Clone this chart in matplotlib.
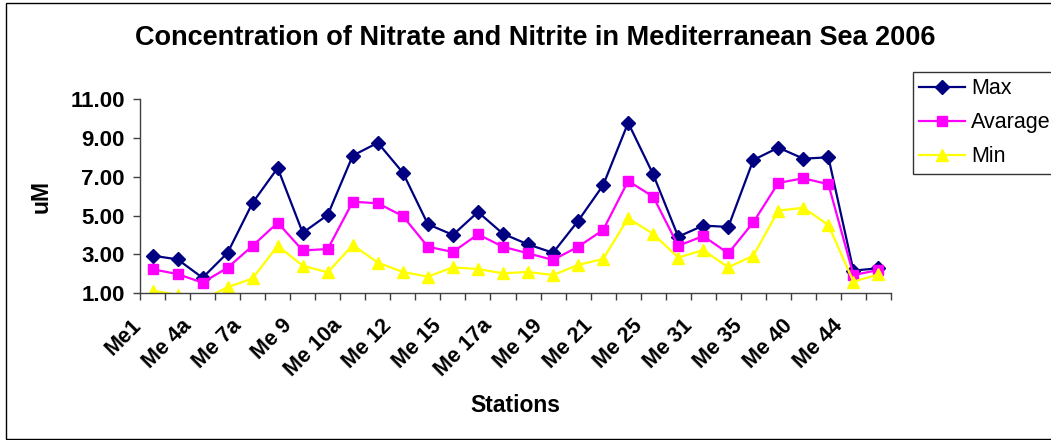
import matplotlib
matplotlib.use("Agg")
import matplotlib.pyplot as plt
from matplotlib.patches import Rectangle
from matplotlib.transforms import ScaledTranslation
import numpy as np

plt.rcParams['font.family'] = ['Liberation Sans', 'DejaVu Sans']

title = "Concentration of Nitrate and Nitrite in Mediterranean Sea 2006"
tick_labels = ["Me1", "Me 4a", "Me 7a", "Me 9", "Me 10a", "Me 12", "Me 15", "Me 17a",
               "Me 19", "Me 21", "Me 25", "Me 31", "Me 35", "Me 40", "Me 44"]
n_stations = 30

max_vals = [2.94, 2.75, 1.80, 3.09, 5.67, 7.46, 4.12, 5.04, 8.10, 8.76,
            7.22, 4.56, 4.01, 5.19, 4.07, 3.52, 3.09, 4.73, 6.57, 9.79,
            7.13, 3.92, 4.49, 4.42, 7.87, 8.51, 7.94, 8.01, 2.17, 2.29]
avg_vals = [2.24, 1.99, 1.55, 2.32, 3.45, 4.64, 3.21, 3.28, 5.72, 5.64,
            4.98, 3.40, 3.13, 4.04, 3.40, 3.06, 2.72, 3.40, 4.26, 6.79,
            5.98, 3.45, 3.95, 3.06, 4.66, 6.69, 6.93, 6.62, 1.94, 2.20]
min_vals = [1.14, 0.92, 0.68, 1.31, 1.77, 3.45, 2.42, 2.08, 3.49, 2.58,
            2.10, 1.86, 2.34, 2.25, 2.03, 2.10, 1.94, 2.46, 2.77, 4.87,
            4.06, 2.84, 3.23, 2.34, 2.94, 5.26, 5.41, 4.52, 1.60, 1.98]
y_ticks = [1, 3, 5, 7, 9, 11]

W, H = 1051, 440
fig = plt.figure(figsize=(W / 100, H / 100), dpi=100)
ax = fig.add_axes([140 / W, 1 - 293.3 / H, (891 - 140) / W, (293.3 - 99.3) / H])

x = np.arange(n_stations)
ax.plot(x, max_vals, color='#000080', marker='D', markersize=7, linewidth=1.6, label='Max')
ax.plot(x, avg_vals, color='#FF00FF', marker='s', markersize=7.5, linewidth=1.6, label='Avarage')
ax.plot(x, min_vals, color='#FFFF00', marker='^', markersize=9, linewidth=1.6, label='Min')

ax.set_xlim(-0.5, n_stations - 0.5)
ax.set_ylim(1, 11)

for s in ['top', 'right']:
    ax.spines[s].set_visible(False)
for s in ['left', 'bottom']:
    ax.spines[s].set_color('#404040')
    ax.spines[s].set_linewidth(1.0)

ax.set_yticks(y_ticks)
ax.set_yticklabels([f"{v:.2f}" for v in y_ticks], fontsize=16, fontweight='bold')
ax.tick_params(axis='y', length=5, width=1, color='#404040', pad=6)

ax.set_xticks(np.arange(-0.5, n_stations, 1.0))
ax.set_xticklabels([])
ax.tick_params(axis='x', which='major', length=5, width=1, color='#404040')
ax.set_xticks(np.arange(0, n_stations, 2), minor=True)
ax.set_xticklabels(tick_labels, minor=True, rotation=45, ha='right', va='center',
                   rotation_mode='anchor', fontsize=15.5, fontweight='bold')
ax.tick_params(axis='x', which='minor', length=0, pad=21)
offset = ScaledTranslation(-14 / 100, 0, fig.dpi_scale_trans)
for lab in ax.get_xticklabels(minor=True):
    lab.set_transform(lab.get_transform() + offset)

ax.set_ylabel("uM", fontsize=16.5, fontweight='bold')
ax.yaxis.set_label_coords((53 - 140) / (891 - 140), 0.5)
ax.set_xlabel("Stations", fontsize=16.5, fontweight='bold')
ax.xaxis.set_label_coords(0.5, (293.3 - 394) / (293.3 - 99.3))

fig.text(535 / W, 1 - 38 / H, title, ha='center', va='center', fontsize=19.5, fontweight='bold')

leg = fig.legend(loc='upper left', bbox_to_anchor=(913 / W, 1 - 72 / H), fontsize=15.5,
                 frameon=True, fancybox=False, edgecolor='black', handlelength=2.1,
                 handletextpad=0.3, borderpad=0.3, labelspacing=0.6, borderaxespad=0)
leg.get_frame().set_linewidth(1.0)

fig.patches.append(Rectangle((6 / W, 1 / H), 1.05, 436 / H, transform=fig.transFigure,
                             fill=False, edgecolor='black', linewidth=1.0))

fig.savefig("out.png", dpi=100)
